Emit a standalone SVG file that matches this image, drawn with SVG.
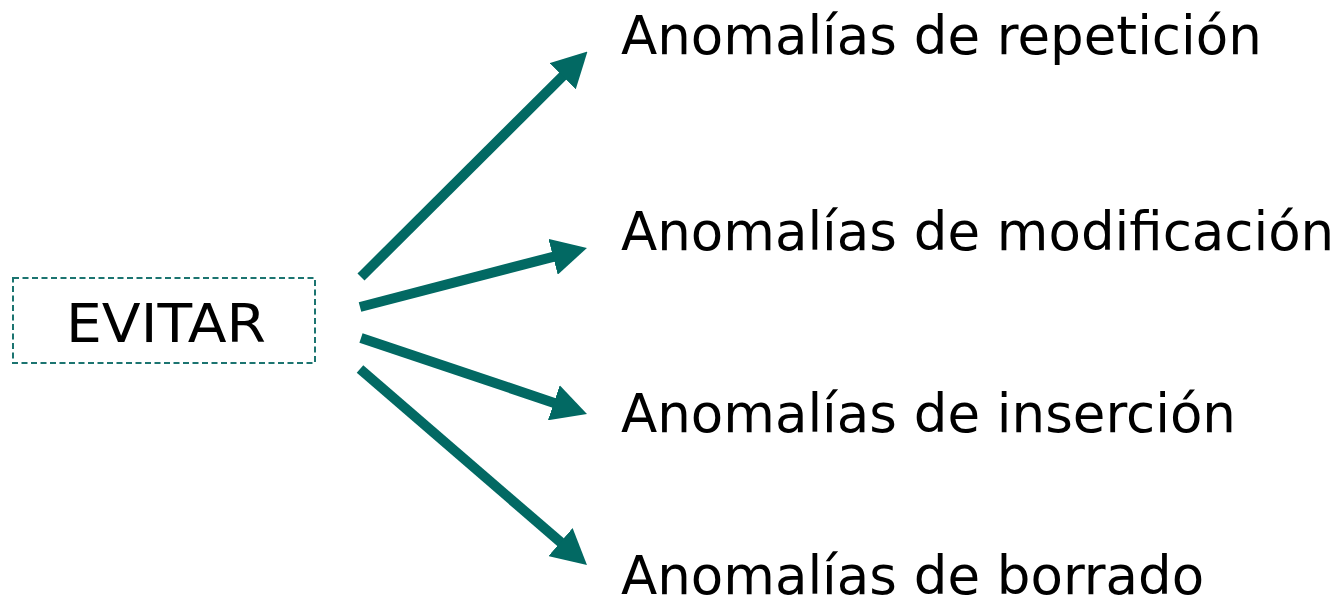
<svg xmlns="http://www.w3.org/2000/svg" width="1337" height="601" viewBox="0 0 1337 601">
<style>
.lbl{font-family:"DejaVu Sans","Verdana",sans-serif;font-size:53px;fill:#000}
.big{font-size:54px}
.arrow{stroke:#026963;stroke-width:10;fill:none;marker-end:url(#head)}
.box{fill:#fff;stroke:#1b7470;stroke-width:2;stroke-dasharray:6 3.5}
</style>
<defs>
<marker id="head" viewBox="0 0 35 37" markerWidth="35" markerHeight="37" markerUnits="userSpaceOnUse" refX="2" refY="18.5" orient="auto">
<polygon points="0,0 35,18.5 0,37" fill="#026963"/>
</marker>
</defs>
<rect width="1337" height="601" fill="#fff"/>
<g id="evitar">
<rect class="box" x="13" y="278" width="302" height="85"/>
<text class="lbl big" x="166" y="342" text-anchor="middle" textLength="200" lengthAdjust="spacingAndGlyphs">EVITAR</text>
</g>
<g id="repeticion"><text class="lbl" x="621" y="54">Anomalías de repetición</text></g>
<g id="modificacion"><text class="lbl" x="621" y="250">Anomalías de modificación</text></g>
<g id="insercion"><text class="lbl" x="621" y="432">Anomalías de inserción</text></g>
<g id="borrado"><text class="lbl" x="621" y="594">Anomalías de borrado</text></g>
<g id="connectors">
<line class="arrow" x1="361" y1="277" x2="564.1" y2="74.8"/>
<line class="arrow" x1="360" y1="307" x2="555" y2="256.3"/>
<line class="arrow" x1="361" y1="338" x2="555.7" y2="403.4"/>
<line class="arrow" x1="360" y1="369" x2="562" y2="543.4"/>
</g>
</svg>
